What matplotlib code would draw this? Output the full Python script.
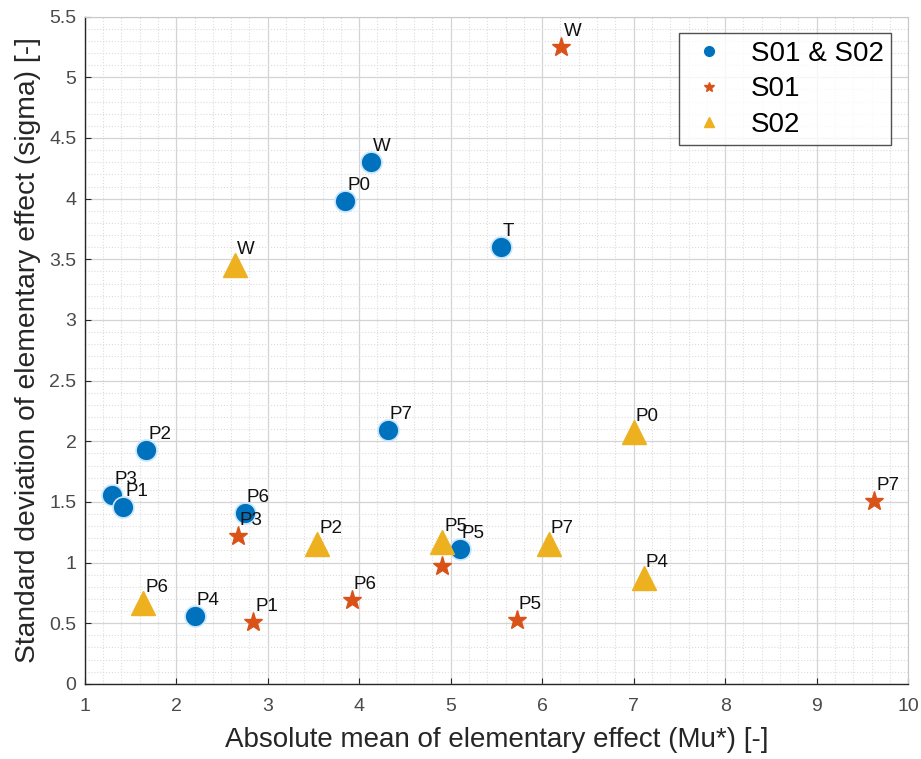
import matplotlib
matplotlib.use("Agg")
import matplotlib.pyplot as plt
from matplotlib.ticker import MultipleLocator, AutoMinorLocator
from matplotlib.lines import Line2D

plt.rcParams['font.family'] = ['Liberation Sans', 'DejaVu Sans']

# S01 & S02 (blue circles)
both_names = ['W', 'P0', 'T', 'P2', 'P7', 'P3', 'P1', 'P6', 'P4', 'P5']
both_mu = [4.13, 3.85, 5.55, 1.67, 4.31, 1.30, 1.42, 2.75, 2.20, 5.10]
both_sigma = [4.30, 3.98, 3.60, 1.93, 2.09, 1.56, 1.46, 1.41, 0.56, 1.11]

# S01 (stars)
s01_names = ['W', 'P3', 'P1', 'P6', '', 'P5', 'P7']
s01_mu = [6.21, 2.67, 2.84, 3.92, 4.90, 5.72, 9.63]
s01_sigma = [5.25, 1.22, 0.51, 0.69, 0.97, 0.53, 1.51]

# S02 (triangles)
s02_names = ['W', 'P0', 'P2', 'P5', 'P7', 'P4', 'P6']
s02_mu = [2.64, 7.00, 3.54, 4.91, 6.07, 7.11, 1.64]
s02_sigma = [3.45, 2.08, 1.15, 1.17, 1.15, 0.87, 0.67]

c_blue = '#0072BD'
c_red = '#D95319'
c_yellow = '#EDB120'

fig = plt.figure(figsize=(9.21, 7.59), dpi=100)
ax = fig.add_axes([0.092, 0.099, 0.894, 0.879])

ax.plot(both_mu, both_sigma, 'o', color=c_blue, markersize=15,
        markeredgecolor='#c6e6ff', markeredgewidth=1.2, zorder=3)
ax.plot(s01_mu, s01_sigma, '*', color=c_red, markersize=14,
        markeredgecolor=c_red, zorder=3)
ax.plot(s02_mu, s02_sigma, '^', color=c_yellow, markersize=17,
        markeredgecolor=c_yellow, zorder=3)

# Punkt-Beschriftungen
for names, xs, ys in [(both_names, both_mu, both_sigma),
                      (s01_names, s01_mu, s01_sigma),
                      (s02_names, s02_mu, s02_sigma)]:
    for n, x, y in zip(names, xs, ys):
        if n:
            ax.annotate(n, (x, y), xytext=(1.5, 5), textcoords='offset points',
                        ha='left', va='bottom', fontsize=13.5, color='#111111',
                        zorder=4)

ax.set_xlim(1, 10)
ax.set_ylim(0, 5.5)
ax.xaxis.set_major_locator(MultipleLocator(1))
ax.yaxis.set_major_locator(MultipleLocator(0.5))
ax.xaxis.set_minor_locator(AutoMinorLocator(5))
ax.yaxis.set_minor_locator(AutoMinorLocator(5))
ax.yaxis.set_major_formatter(plt.FuncFormatter(lambda v, p: f'{v:g}'))

ax.grid(True, which='major', color='#d4d4d4', linewidth=0.9)
ax.grid(True, which='minor', color='#dcdcdc', linestyle=':', linewidth=0.8)
ax.set_axisbelow(True)

ax.tick_params(which='both', direction='in', labelsize=14, colors='#262626')
ax.tick_params(axis='both', labelcolor='#4a4a4a')
ax.tick_params(which='minor', length=0)
ax.tick_params(which='major', length=4, top=False, right=False)
ax.tick_params(axis='x', pad=10)
ax.tick_params(axis='y', pad=6)
for s in ['left', 'bottom']:
    ax.spines[s].set_color('#262626')
    ax.spines[s].set_linewidth(1.0)
for s in ['top', 'right']:
    ax.spines[s].set_color('#c8c8c8')

ax.set_xlabel('Absolute mean of elementary effect (Mu*) [-]', fontsize=20,
              color='#262626', labelpad=9)
ax.set_ylabel('Standard deviation of elementary effect (sigma) [-]', fontsize=20.3,
              color='#262626', labelpad=6)

handles = [
    Line2D([], [], linestyle='none', marker='o', color=c_blue, markersize=7),
    Line2D([], [], linestyle='none', marker='*', color=c_red, markersize=7),
    Line2D([], [], linestyle='none', marker='^', color=c_yellow, markersize=7),
]
leg = fig.legend(handles, ['S01 & S02', 'S01', 'S02'], loc='upper left',
                 bbox_to_anchor=(679 / 921, 1 - 33 / 759), fontsize=20,
                 frameon=True, fancybox=False, edgecolor='#262626',
                 handlelength=1.6, handletextpad=0.7, labelspacing=0.34,
                 borderpad=0.28, borderaxespad=0)
leg.get_frame().set_linewidth(1.0)

fig.savefig('out.png', dpi=100)
plt.close(fig)
